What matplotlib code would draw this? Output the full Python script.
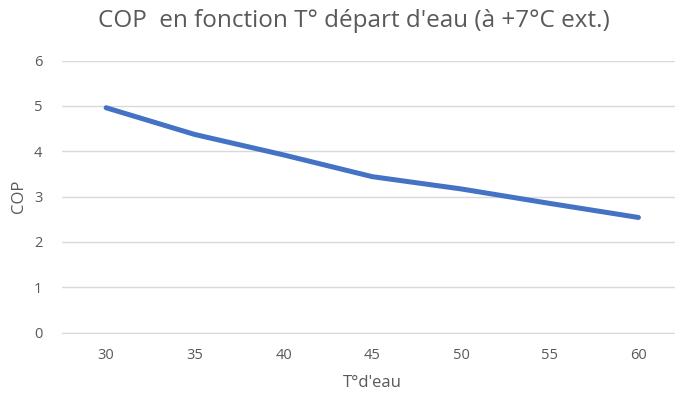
import matplotlib
matplotlib.use('Agg')
import matplotlib.pyplot as plt

## Data: COP vs water outlet temperature (outdoor +7°C)
temp_depart = [30, 35, 40, 45, 50, 55, 60]
cop_values = [4.96, 4.37, 3.92, 3.44, 3.17, 2.85, 2.54]
y_ticks = [0, 1, 2, 3, 4, 5, 6]

plt.rcParams['font.family'] = ['Open Sans', 'DejaVu Sans']

fig = plt.figure(figsize=(6.75, 3.96), dpi=100)
# plot area runs slightly past the right edge of the canvas
ax = fig.add_axes([0.0915, 0.160, 0.920, 0.687])

# category-style axis: one slot per temperature, points in slot centres
pos = list(range(len(temp_depart)))
ax.plot(pos, cop_values, color='#4472C4', linewidth=3.6, solid_capstyle='round')

ax.set_xlim(-0.5, len(temp_depart) - 0.5)
ax.set_ylim(0, 6)
ax.set_xticks(pos)
ax.set_xticklabels([str(t) for t in temp_depart])
ax.set_yticks(y_ticks)

ax.grid(axis='y', color='#D9D9D9', linewidth=1.0)
ax.set_axisbelow(True)
for side in ['top', 'right', 'left']:
    ax.spines[side].set_visible(False)
ax.spines['bottom'].set_color('#D9D9D9')
ax.tick_params(axis='both', length=0, labelsize=10.5, labelcolor='#595959')
ax.tick_params(axis='x', pad=11)
ax.tick_params(axis='y', pad=14)

ax.set_xlabel("T°d'eau", fontsize=12, color='#595959', labelpad=9)
ax.set_ylabel("COP", fontsize=12, color='#595959', labelpad=5)

fig.text(0.525, 0.948, "COP  en fonction T° départ d'eau (à +7°C ext.)",
         ha='center', va='center', fontsize=17.5, color='#595959')

plt.savefig('out.png', dpi=100)
